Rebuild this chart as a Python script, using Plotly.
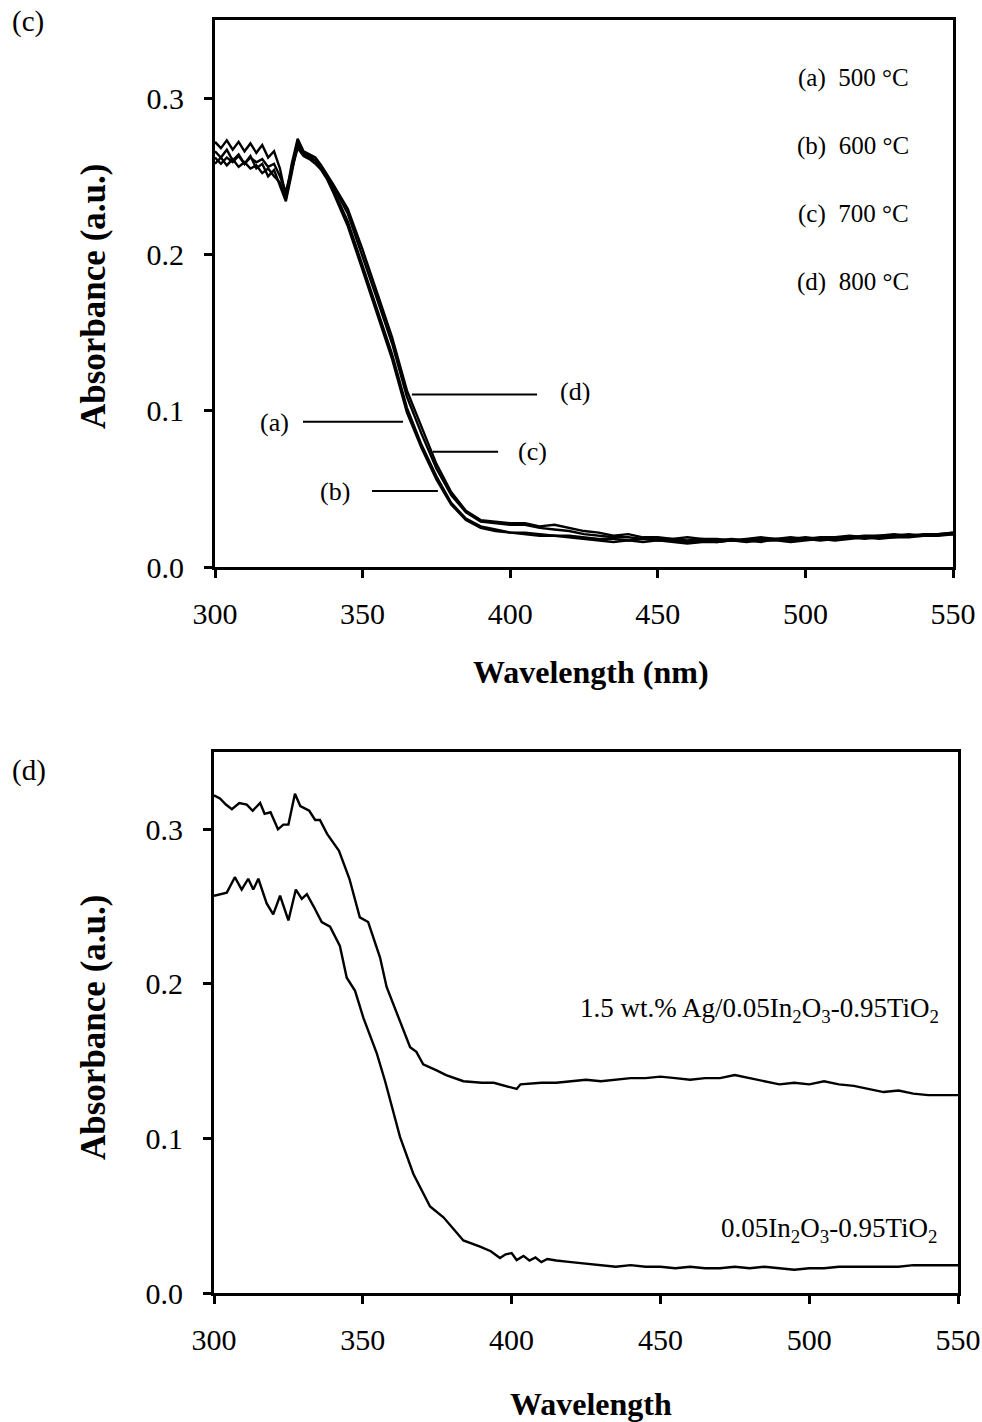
import plotly.graph_objects as go

W, H = 982, 1422

# ---------------- Panel (c) data ----------------
wl_c = [300, 302, 304, 306, 308, 310, 312, 314, 316, 318, 320, 322, 324, 326, 328,
        330, 332, 334, 336, 338, 340,
        345, 350, 355, 360, 365, 370, 375, 380, 385, 390, 395, 400,
        405, 410, 415, 420, 425, 430, 435, 440, 445, 450, 455, 460, 465, 470, 475,
        480, 485, 490, 495, 500, 505, 510, 515, 520, 525, 530, 535, 540, 545, 550]

abs_a = [0.258, 0.262, 0.257, 0.261, 0.256, 0.259, 0.255, 0.257, 0.252, 0.255, 0.250, 0.246, 0.236, 0.254, 0.268,
         0.263, 0.261, 0.258, 0.254, 0.248, 0.240,
         0.218, 0.190, 0.161, 0.133, 0.099, 0.076, 0.056, 0.040, 0.030, 0.025, 0.023, 0.022,
         0.021, 0.020, 0.020, 0.019, 0.018, 0.017, 0.016, 0.017, 0.016, 0.017, 0.016, 0.015, 0.016, 0.016, 0.017,
         0.016, 0.017, 0.017, 0.016, 0.017, 0.018, 0.017, 0.018, 0.019, 0.018, 0.019, 0.019, 0.020, 0.020, 0.021]

abs_b = [0.262, 0.258, 0.262, 0.259, 0.263, 0.258, 0.262, 0.259, 0.261, 0.256, 0.258, 0.250, 0.240, 0.256, 0.270,
         0.264, 0.263, 0.260, 0.255, 0.249, 0.242,
         0.221, 0.193, 0.164, 0.136, 0.102, 0.078, 0.058, 0.041, 0.031, 0.026, 0.024, 0.022,
         0.022, 0.021, 0.020, 0.020, 0.019, 0.018, 0.018, 0.017, 0.018, 0.017, 0.017, 0.016, 0.017, 0.016, 0.017,
         0.017, 0.016, 0.018, 0.017, 0.018, 0.017, 0.018, 0.019, 0.018, 0.019, 0.019, 0.020, 0.020, 0.021, 0.021]

abs_c = [0.266, 0.262, 0.267, 0.260, 0.264, 0.258, 0.263, 0.255, 0.258, 0.250, 0.254, 0.244, 0.234, 0.252, 0.272,
         0.265, 0.262, 0.260, 0.256, 0.250, 0.244,
         0.226, 0.199, 0.171, 0.143, 0.109, 0.085, 0.063, 0.046, 0.035, 0.029, 0.028, 0.027,
         0.027, 0.025, 0.024, 0.023, 0.021, 0.020, 0.019, 0.019, 0.018, 0.018, 0.018, 0.017, 0.018, 0.017, 0.018,
         0.017, 0.018, 0.018, 0.019, 0.018, 0.019, 0.019, 0.020, 0.019, 0.020, 0.020, 0.021, 0.020, 0.021, 0.022]

abs_d = [0.272, 0.268, 0.273, 0.267, 0.272, 0.266, 0.271, 0.265, 0.270, 0.262, 0.266, 0.255, 0.237, 0.258, 0.274,
         0.266, 0.264, 0.262, 0.257, 0.251, 0.245,
         0.229, 0.203, 0.175, 0.147, 0.113, 0.089, 0.066, 0.048, 0.036, 0.030, 0.029, 0.028,
         0.028, 0.026, 0.027, 0.025, 0.023, 0.022, 0.020, 0.021, 0.019, 0.019, 0.018, 0.019, 0.018, 0.018, 0.017,
         0.018, 0.019, 0.018, 0.018, 0.019, 0.018, 0.019, 0.019, 0.020, 0.020, 0.021, 0.020, 0.021, 0.021, 0.022]

legend_c = ["(a)\u00a0\u00a0500 \u00b0C", "(b)\u00a0\u00a0600 \u00b0C", "(c)\u00a0\u00a0700 \u00b0C", "(d)\u00a0\u00a0800 \u00b0C"]

# ---------------- Panel (d) data ----------------
wl_ag = [300, 302, 304, 306, 308.5, 311, 313, 315.5, 317, 319, 321.5, 323.3, 325, 327.2, 329, 332, 334,
         335.6, 338, 342, 345.5, 349, 351.8, 355.8, 358, 361.4, 365.9, 368, 370.3, 374.8, 378, 383.8,
         386, 390, 394, 398, 401.7, 403, 410, 415, 420, 425, 430, 435, 440, 445, 450, 455, 460, 465,
         470, 475, 480, 485, 490, 495, 500, 505, 510, 515, 520, 525, 530, 535, 540, 545, 550]
abs_ag = [0.322, 0.320, 0.316, 0.313, 0.317, 0.316, 0.312, 0.317, 0.310, 0.311, 0.300, 0.303, 0.303, 0.323,
          0.315, 0.312, 0.306, 0.306, 0.297, 0.286, 0.268, 0.243, 0.240, 0.217, 0.198, 0.181, 0.159, 0.156,
          0.148, 0.144, 0.141, 0.137, 0.1365, 0.136, 0.136, 0.134, 0.132, 0.135, 0.136, 0.136, 0.137, 0.138,
          0.137, 0.138, 0.139, 0.139, 0.140, 0.139, 0.138, 0.139, 0.139, 0.141, 0.139, 0.137, 0.135, 0.136,
          0.135, 0.137, 0.135, 0.134, 0.132, 0.130, 0.131, 0.129, 0.128, 0.128, 0.128]

wl_in = [300, 302, 304.3, 307, 309.3, 311.5, 313.2, 314.9, 317.7, 319.9, 322.2, 325, 327.5, 329.5, 331.2,
         333.5, 336.2, 339, 342.3, 344.6, 347.4, 350.2, 354.7, 357.5, 362.5, 367, 372.6, 377.1, 383.8,
         389.4, 393, 396.1, 398, 400, 401.7, 404, 406, 408, 410, 412, 415, 420, 425, 430, 435, 440, 445,
         450, 455, 460, 465, 470, 475, 480, 485, 490, 495, 500, 505, 510, 515, 520, 525, 530, 535, 540,
         545, 550]
abs_in = [0.257, 0.258, 0.259, 0.269, 0.261, 0.268, 0.261, 0.268, 0.252, 0.245, 0.257, 0.241, 0.261, 0.255,
          0.258, 0.250, 0.240, 0.237, 0.2245, 0.204, 0.1955, 0.178, 0.155, 0.137, 0.101, 0.077, 0.056, 0.049,
          0.034, 0.030, 0.027, 0.0226, 0.025, 0.0258, 0.0213, 0.024, 0.021, 0.023, 0.020, 0.022, 0.021, 0.020,
          0.019, 0.018, 0.017, 0.018, 0.017, 0.017, 0.016, 0.017, 0.016, 0.016, 0.017, 0.016, 0.017, 0.016,
          0.015, 0.016, 0.016, 0.017, 0.017, 0.017, 0.017, 0.017, 0.018, 0.018, 0.018, 0.018]

label_ag = "1.5 wt.% Ag/0.05In<sub>2</sub>O<sub>3</sub>-0.95TiO<sub>2</sub>"
label_in = "0.05In<sub>2</sub>O<sub>3</sub>-0.95TiO<sub>2</sub>"

y_ticks = [0.0, 0.1, 0.2, 0.3]
x_ticks = [300, 350, 400, 450, 500, 550]

FONT = "Liberation Serif"
LW = 2.4


def px(xp):
    return xp / W


def py(yp):
    return 1 - yp / H


fig = go.Figure()

for vals in [abs_a, abs_b, abs_c, abs_d]:
    fig.add_trace(go.Scatter(x=wl_c, y=vals, mode="lines", xaxis="x", yaxis="y",
                             line=dict(color="black", width=LW), showlegend=False))

fig.add_trace(go.Scatter(x=wl_ag, y=abs_ag, mode="lines", xaxis="x2", yaxis="y2",
                         line=dict(color="black", width=LW), showlegend=False))
fig.add_trace(go.Scatter(x=wl_in, y=abs_in, mode="lines", xaxis="x2", yaxis="y2",
                         line=dict(color="black", width=LW), showlegend=False))

axis_common = dict(showline=True, linecolor="black", linewidth=3, mirror=True,
                   ticks="outside", ticklen=8, tickwidth=3, tickcolor="black",
                   showgrid=False, zeroline=False, automargin=False,
                   tickfont=dict(family=FONT, size=30, color="black"))

fig.update_layout(
    template="none",
    width=W, height=H,
    margin=dict(l=0, r=0, t=0, b=0, pad=0),
    paper_bgcolor="white", plot_bgcolor="white",
    font=dict(family=FONT, color="black"),
    xaxis=dict(domain=[px(215), px(953)], range=[300, 550], anchor="y",
               tickvals=x_ticks, ticklabelstandoff=10, **axis_common),
    yaxis=dict(domain=[py(567), py(20)], range=[0, 0.35], anchor="x",
               tickvals=y_ticks, tickformat=".1f", ticklabelstandoff=14, **axis_common),
    xaxis2=dict(domain=[px(214), px(958)], range=[300, 550], anchor="y2",
                tickvals=x_ticks, ticklabelstandoff=10, **axis_common),
    yaxis2=dict(domain=[py(1293), py(752)], range=[0, 0.35], anchor="x2",
                tickvals=y_ticks, tickformat=".1f", ticklabelstandoff=14, **axis_common),
)

ann = []
# panel letters
ann.append(dict(text="(c)", x=px(10), y=py(22), xref="paper", yref="paper",
                xanchor="left", yanchor="middle", showarrow=False, font=dict(size=29)))
ann.append(dict(text="(d)", x=px(10), y=py(770), xref="paper", yref="paper",
                xanchor="left", yanchor="middle", showarrow=False, font=dict(size=29)))
# axis titles
for yc in [py(297), py(1028)]:
    ann.append(dict(text="<b>Absorbance (a.u.)</b>", x=px(93), y=yc, xref="paper", yref="paper",
                    textangle=-90, showarrow=False, xanchor="center", yanchor="middle",
                    font=dict(size=35)))
ann.append(dict(text="<b>Wavelength (nm)</b>", x=px(591), y=py(672), xref="paper", yref="paper",
                showarrow=False, xanchor="center", yanchor="middle", font=dict(size=32)))
ann.append(dict(text="<b>Wavelength</b>", x=px(591), y=py(1404), xref="paper", yref="paper",
                showarrow=False, xanchor="center", yanchor="middle", font=dict(size=32)))

# legend-like labels in panel (c)
for txt, ypix in zip(legend_c, [78, 146, 214, 282]):
    ann.append(dict(text=txt, x=px(853), y=py(ypix), xref="paper", yref="paper",
                    xanchor="center", yanchor="middle", showarrow=False, font=dict(size=25)))

# curve labels with leader lines in panel (c)
curve_labels = [("(d)", 421.9, 0.1122, 366.7, 409.1, 0.1103),
                ("(a)", 320.3, 0.0923, 329.8, 363.7, 0.0929),
                ("(c)", 407.4, 0.0737, 373.8, 395.9, 0.0737),
                ("(b)", 340.7, 0.0480, 353.2, 375.5, 0.0487)]
shapes = []
for txt, tx, ty, x0, x1, ly in curve_labels:
    ann.append(dict(text=txt, x=tx, y=ty, xref="x", yref="y", xanchor="center", yanchor="middle",
                    showarrow=False, font=dict(size=26)))
    shapes.append(dict(type="line", xref="x", yref="y", x0=x0, x1=x1, y0=ly, y1=ly,
                       line=dict(color="black", width=2)))

# panel (d) labels
ann.append(dict(text=label_ag, x=px(941), y=py(1010), xref="paper", yref="paper",
                xanchor="right", yanchor="middle", showarrow=False, font=dict(size=27)))
ann.append(dict(text=label_in, x=px(939), y=py(1230), xref="paper", yref="paper",
                xanchor="right", yanchor="middle", showarrow=False, font=dict(size=27)))

for a in ann:
    a.setdefault("font", {})
    a["font"].update(family=FONT, color="black")

fig.update_layout(annotations=ann, shapes=shapes)

fig.write_html("out.html")
